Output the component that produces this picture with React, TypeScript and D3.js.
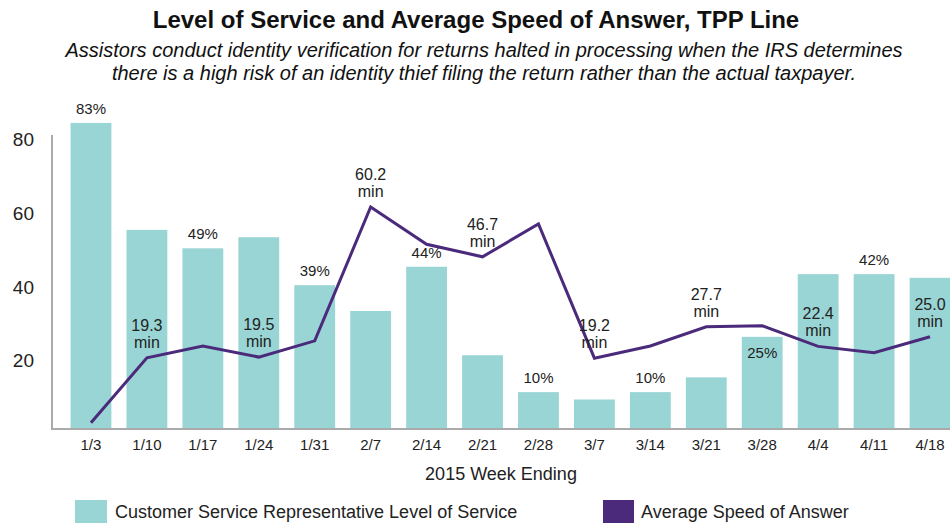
import React from 'react';
import * as d3 from 'd3';

// Weeks ending, 2015
const weeks = ['1/3', '1/10', '1/17', '1/24', '1/31', '2/7', '2/14', '2/21', '2/28', '3/7', '3/14', '3/21', '3/28', '4/4', '4/11', '4/18'];
// CSR level of service (%)
const levelOfService = [83, 54, 49, 52, 39, 32, 44, 20, 10, 8, 10, 14, 25, 42, 42, 41];
// Average speed of answer (minutes)
const speedOfAnswer = [1.7, 19.3, 22.5, 19.5, 23.9, 60.2, 50.1, 46.7, 55.6, 19.2, 22.5, 27.7, 28, 22.4, 20.7, 25.0];
// which bars / points carry a value label
const losLabelWeeks = ['1/3', '1/17', '1/31', '2/14', '2/28', '3/14', '3/28', '4/11'];
const losInsideWeeks = ['3/28'];
const asaLabelWeeks = ['1/10', '1/24', '2/7', '2/21', '3/7', '3/21', '4/4', '4/18'];
const yTicks = [20, 40, 60, 80];

const W = 950;
const H = 523;
const TEAL = '#99d5d4';
const PURPLE = '#4b2a7b';
const FONT = '"Liberation Sans", Arial, sans-serif';

export default function App() {
  const x = d3.scaleBand<string>().domain(weeks).range([63, 958]).paddingInner(0.27).paddingOuter(0.135);
  const y = d3.scaleLinear().domain([0, 80]).range([429, 134]);
  const cx = (w: string) => (x(w) ?? 0) + x.bandwidth() / 2;

  const line = d3.line<number>()
    .x((_, i) => cx(weeks[i]))
    .y(d => y(d));

  return (
    <div style={{ position: 'absolute', left: 0, top: 0 }}>
      <svg width={W} height={H} style={{ display: 'block', fontFamily: FONT }}>
        <rect width={W} height={H} fill="#fff" />

        {/* Title */}
        <text x={476} y={28} textAnchor="middle" fontSize={24} fontWeight="bold" fill="#111">
          Level of Service and Average Speed of Answer, TPP Line
        </text>
        <text x={484} y={57} textAnchor="middle" fontSize={20} fontStyle="italic" fill="#111">
          Assistors conduct identity verification for returns halted in processing when the IRS determines
        </text>
        <text x={484} y={80} textAnchor="middle" fontSize={20} fontStyle="italic" fill="#111">
          there is a high risk of an identity thief filing the return rather than the actual taxpayer.
        </text>

        {/* Bars */}
        {weeks.map((w, i) => (
          <rect key={w} x={x(w)} y={y(levelOfService[i])} width={x.bandwidth()}
            height={y(0) - y(levelOfService[i])} fill={TEAL} />
        ))}

        {/* Axes */}
        <line x1={52} x2={52} y1={135} y2={430} stroke="#aaa" strokeWidth={2} />
        <line x1={51} x2={W} y1={429} y2={429} stroke="#aaa" strokeWidth={2} />
        {yTicks.map(t => (
          <text key={t} x={34} y={y(t) + 12} textAnchor="end" fontSize={19} fill="#222">{t}</text>
        ))}
        {weeks.map(w => (
          <text key={w} x={cx(w)} y={450} textAnchor="middle" fontSize={15} fill="#222">{w}</text>
        ))}
        <text x={501} y={480} textAnchor="middle" fontSize={18} fill="#222">2015 Week Ending</text>

        {/* Level of service labels */}
        {weeks.map((w, i) => losLabelWeeks.includes(w) && (
          <text key={w} x={cx(w)} fontSize={15} textAnchor="middle" fill="#222"
            y={losInsideWeeks.includes(w) ? y(levelOfService[i]) + 21 : y(levelOfService[i]) - 9}>
            {levelOfService[i]}%
          </text>
        ))}

        {/* ASA line */}
        <path d={line(speedOfAnswer) ?? ''} fill="none" stroke={PURPLE} strokeWidth={3} strokeLinejoin="miter" />
        {weeks.map((w, i) => asaLabelWeeks.includes(w) && (
          <g key={w} fill="#222" fontSize={16} textAnchor="middle">
            <text x={cx(w)} y={y(speedOfAnswer[i]) - 27}>{speedOfAnswer[i].toFixed(1)}</text>
            <text x={cx(w)} y={y(speedOfAnswer[i]) - 10}>min</text>
          </g>
        ))}

        {/* Legend */}
        <rect x={75} y={500} width={32} height={23} fill={TEAL} />
        <text x={115} y={518} fontSize={18} fill="#222">Customer Service Representative Level of Service</text>
        <rect x={603} y={500} width={31} height={23} fill={PURPLE} />
        <text x={641} y={518} fontSize={18} fill="#222">Average Speed of Answer</text>
      </svg>
    </div>
  );
}
